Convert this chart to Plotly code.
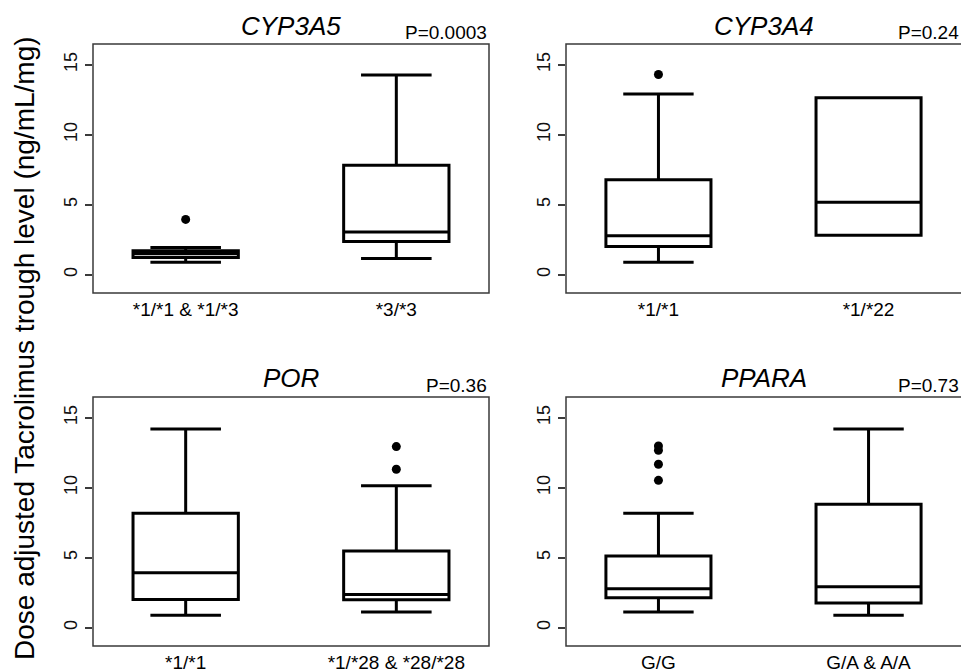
import plotly.graph_objects as go

# ---- data ----
panel_titles = ["CYP3A5", "CYP3A4", "POR", "PPARA"]
p_values = ["P=0.0003", "P=0.24", "P=0.36", "P=0.73"]
group_labels = [
    ["*1/*1 & *1/*3", "*3/*3"],
    ["*1/*1", "*1/*22"],
    ["*1/*1", "*1/*28 & *28/*28"],
    ["G/G", "G/A & A/A"],
]
lower_whisker = [[0.90, 1.17], [0.90, 2.83], [0.90, 1.12], [1.12, 0.90]]
q1_vals = [[1.24, 2.38], [2.02, 2.83], [2.02, 2.00], [2.14, 1.76]]
median_vals = [[1.50, 3.05], [2.79, 5.17], [3.93, 2.38], [2.79, 2.93]]
q3_vals = [[1.71, 7.81], [6.79, 12.64], [8.17, 5.48], [5.12, 8.81]]
upper_whisker = [[1.95, 14.26], [12.90, 12.64], [14.19, 10.14], [8.17, 14.19]]
outliers = [
    [[3.95], []],
    [[14.29], []],
    [[], [11.31, 12.93]],
    [[10.52, 11.67, 12.67, 12.98], []],
]
y_ticks = [0, 5, 10, 15]
y_title = "Dose adjusted Tacrolimus trough level (ng/mL/mg)"

# ---- layout geometry (pixels) ----
W, H = 961, 672
FONT = "Liberation Sans, Arial, Helvetica, sans-serif"


def px(x):
    return x / W


def py(y):
    return 1 - y / H


panel_x = [(93, 489), (566, 961), (93, 489), (566, 961)]
panel_y = [(44, 293), (44, 293), (397, 646), (397, 646)]

fig = go.Figure()
layout_axes = {}
annotations = []
shapes = []
frame_color = "#3a3a3a"

for i in range(4):
    n = "" if i == 0 else str(i + 1)
    xa, ya = "x" + n, "y" + n
    for g in range(2):
        fig.add_trace(go.Box(
            x=[g + 1],
            q1=[q1_vals[i][g]], median=[median_vals[i][g]], q3=[q3_vals[i][g]],
            lowerfence=[lower_whisker[i][g]], upperfence=[upper_whisker[i][g]],
            width=0.5, whiskerwidth=0.67, boxpoints=False,
            line=dict(color="black", width=3), fillcolor="rgba(255,255,255,0)",
            xaxis=xa, yaxis=ya, hoverinfo="skip",
        ))
        if outliers[i][g]:
            fig.add_trace(go.Scatter(
                x=[g + 1] * len(outliers[i][g]), y=outliers[i][g], mode="markers",
                marker=dict(color="black", size=9), xaxis=xa, yaxis=ya, hoverinfo="skip",
            ))
    x0, x1 = panel_x[i]
    y0, y1 = panel_y[i]
    layout_axes["xaxis" + n] = dict(
        domain=[px(x0), min(px(x1), 1.0)], range=[0.56, 2.44], anchor=ya,
        tickvals=[1, 2], ticktext=group_labels[i], ticks="", showgrid=False,
        zeroline=False, showline=False, tickfont=dict(size=19, color="black", family=FONT),
        ticklabelstandoff=3,
    )
    layout_axes["yaxis" + n] = dict(
        domain=[py(y1), py(y0)], range=[-1.30, 16.47], anchor=xa,
        tickvals=y_ticks, ticks="outside", ticklen=7, tickwidth=1.5, tickcolor=frame_color,
        tickangle=-90, showgrid=False, zeroline=False, showline=False,
        tickfont=dict(size=18, color="#111", family=FONT), ticklabelstandoff=1,
    )
    # frame
    fx1 = x1 if x1 < 961 else 975
    shapes.append(dict(type="rect", xref="paper", yref="paper",
                       x0=px(x0), x1=px(fx1), y0=py(y1), y1=py(y0),
                       line=dict(color=frame_color, width=1.5)))
    # titles
    title_y = 26 if i < 2 else 378
    annotations.append(dict(
        text=panel_titles[i], xref="paper", yref="paper", x=px(x0 + 198),
        y=py(title_y), xanchor="center", yanchor="middle", showarrow=False,
        font=dict(size=26, color="black", family=FONT, style="italic"),
    ))
    annotations.append(dict(
        text=p_values[i], xref="paper", yref="paper", x=min(px(x0 + 396), 1.0),
        y=py(y0 + 1), xanchor="right", yanchor="bottom", showarrow=False,
        font=dict(size=19, color="black", family=FONT),
    ))

annotations.append(dict(
    text=y_title, xref="paper", yref="paper", x=px(24), y=py(348),
    xanchor="center", yanchor="middle", textangle=-90, showarrow=False,
    font=dict(size=28, color="black", family=FONT),
))

fig.update_layout(
    width=W, height=H, margin=dict(l=0, r=0, t=0, b=0),
    paper_bgcolor="white", plot_bgcolor="white", showlegend=False,
    annotations=annotations, shapes=shapes, font=dict(family=FONT),
    **layout_axes,
)

fig.write_html(
    "out.html",
    config={"displayModeBar": False},
    post_script="document.body.style.margin='0px';document.body.style.overflow='hidden';",
)
